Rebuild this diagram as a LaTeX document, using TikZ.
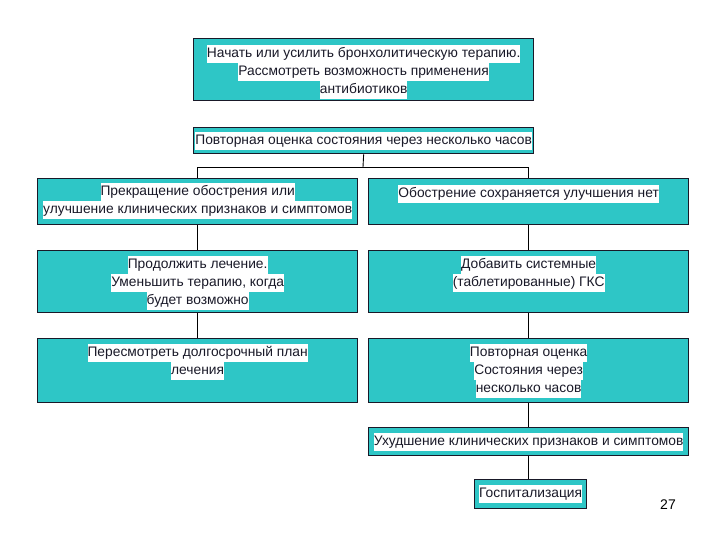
\documentclass[tikz,border=0pt]{standalone}
\usepackage{fontspec}
\setmainfont{Liberation Sans}
\definecolor{boxteal}{RGB}{46,198,198}
\definecolor{edgedark}{RGB}{25,25,40}
\newcommand\hl[1]{{\setlength\fboxsep{0pt}\colorbox{white}{\strut #1}}}
\tikzset{
  box/.style={draw=edgedark, fill=boxteal, line width=1.3pt, inner sep=0pt, anchor=north west},
  txt/.style={anchor=north, align=center, inner sep=0pt, text=edgedark, font=\fontsize{13.8}{18}\selectfont},
  ctxt/.style={anchor=center, align=center, inner sep=0pt, text=edgedark, font=\fontsize{13.8}{18}\selectfont},
  conn/.style={draw=black, line width=0.9pt}
}
\begin{document}
\begin{tikzpicture}[x=1pt,y=-1pt]
\useasboundingbox (0,0) rectangle (720,540);
% boxes
\node[box, minimum width=340, minimum height=62] (b1) at (193,38) {};
\node[box, minimum width=340, minimum height=26] (b2) at (193,127) {};
\node[box, minimum width=320, minimum height=46] (b3) at (37,178) {};
\node[box, minimum width=320, minimum height=46] (b4) at (368,178) {};
\node[box, minimum width=320, minimum height=62] (b5) at (37,250) {};
\node[box, minimum width=320, minimum height=62] (b7) at (368,250) {};
\node[box, minimum width=320, minimum height=64] (b6) at (37,338) {};
\node[box, minimum width=320, minimum height=64] (b8) at (368,338) {};
\node[box, minimum width=320, minimum height=28] (b9) at (368,427) {};
\node[box, minimum width=112, minimum height=29] (b10) at (474,479) {};
% texts
\node[txt] (t1) at ([yshift=-7]b1.north) {\hl{Начать или усилить бронхолитическую терапию.}\\\hl{Рассмотреть возможность применения}\\\hl{антибиотиков}};
\node[ctxt] (t2) at (b2.center) {\hl{Повторная оценка состояния через несколько часов}};
\node[txt] (t3) at ([yshift=-5]b3.north) {\hl{Прекращение обострения или}\\\hl{улучшение клинических признаков и симптомов}};
\node[txt] (t4) at ([yshift=-7]b4.north) {\hl{Обострение сохраняется улучшения нет}};
\node[txt] (t5) at ([yshift=-6]b5.north) {\hl{Продолжить лечение.}\\\hl{Уменьшить терапию, когда}\\\hl{будет возможно}};
\node[txt] (t7) at ([yshift=-6]b7.north) {\hl{Добавить системные}\\\hl{(таблетированные) ГКС}};
\node[txt] (t6) at ([yshift=-6]b6.north) {\hl{Пересмотреть долгосрочный план}\\\hl{лечения}};
\node[txt] (t8) at ([yshift=-6]b8.north) {\hl{Повторная оценка}\\\hl{Состояния через}\\\hl{несколько часов}};
\node[ctxt] (t9) at (b9.center) {\hl{Ухудшение клинических признаков и симптомов}};
\node[ctxt] (t10) at (b10.center) {\hl{Госпитализация}};
\node[ctxt, font=\fontsize{14}{16}\selectfont, text=black] (pg) at (668,505) {27};
% connectors
\coordinate (j) at (363,167);
\draw[conn] (b2.south) -- (j);
\draw[conn] (b3.north) -- (b3.north |- j) -- (b4.north |- j) -- (b4.north);
\draw[conn] (b3.south) -- (b5.north);
\draw[conn] (b5.south) -- (b6.north);
\draw[conn] (b4.south) -- (b7.north);
\draw[conn] (b7.south) -- (b8.north);
\draw[conn] (b8.south) -- (b8.south |- b9.north);
\draw[conn] (b9.south) -- (b9.south |- b10.north);
\end{tikzpicture}
\end{document}
